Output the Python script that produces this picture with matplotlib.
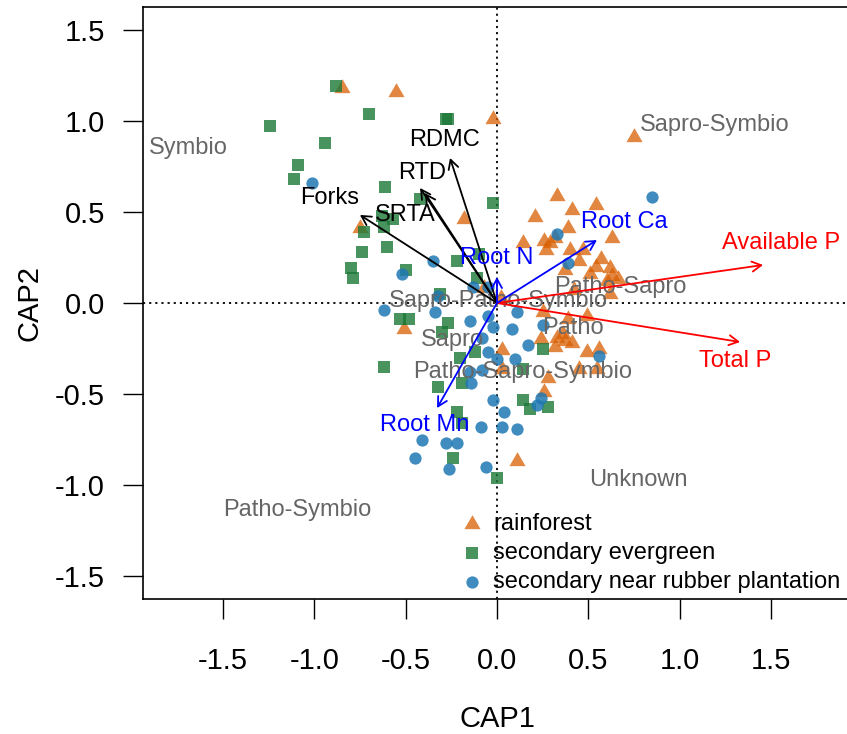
import matplotlib
matplotlib.use('Agg')
import matplotlib.pyplot as plt

plt.rcParams['font.family'] = ['Liberation Sans', 'DejaVu Sans']

# site scores (CAP1, CAP2) per forest type
rain_x = [-0.85, -0.55, -0.02, 0.75, -0.75, -0.18, -0.51, 0.11, 0.33, 0.54, 0.41, 0.21,
          0.39, 0.63, 0.14, 0.26, 0.32, 0.27, 0.40, 0.47, 0.57, 0.45, 0.54, 0.62,
          0.37, 0.51, 0.63, 0.60, 0.66, 0.62, 0.42, 0.25, 0.49, 0.39, 0.33, 0.24,
          0.37, 0.41, 0.32, 0.49, 0.56, 0.03, 0.55, 0.45, 0.28, 0.26, 0.02, -0.07,
          0.29, 0.03, 0.36]
rain_y = [1.18, 1.16, 1.01, 0.91, 0.41, 0.46, -0.14, -0.87, 0.59, 0.54, 0.51, 0.47,
          0.41, 0.36, 0.33, 0.34, 0.36, 0.29, 0.29, 0.29, 0.24, 0.23, 0.20, 0.19,
          0.18, 0.16, 0.15, 0.12, 0.13, 0.05, 0.07, -0.05, -0.07, -0.09, -0.19, -0.20,
          -0.21, -0.22, -0.24, -0.27, -0.25, -0.26, -0.36, -0.36, -0.41, -0.49, 0.03, 0.08,
          0.33, -0.36, -0.17]

ever_x = [-0.88, -0.70, -1.24, -0.94, -1.09, -1.11, -0.28, -0.27, -0.61, -0.42, -0.02,
          -0.63, -0.57, -0.62, -0.73, -0.60, -0.74, -0.80, -0.79, -0.50, -0.22, -0.10,
          -0.11, -0.31, -0.53, -0.48, -0.27, -0.30, -0.62, -0.20, -0.12, -0.32, -0.19,
          -0.22, -0.19, -0.24, 0.00, 0.14, 0.18, 0.28, 0.25, 0.14]
ever_y = [1.19, 1.04, 0.97, 0.88, 0.76, 0.68, 1.01, 1.01, 0.64, 0.57, 0.55,
          0.48, 0.46, 0.42, 0.39, 0.31, 0.28, 0.19, 0.14, 0.18, 0.23, 0.27,
          0.14, 0.05, -0.09, -0.09, -0.11, -0.16, -0.35, -0.30, -0.27, -0.46, -0.44,
          -0.60, -0.66, -0.85, -0.96, -0.53, -0.58, -0.57, -0.25, -0.36]

rubb_x = [-1.01, 0.85, 0.33, 0.39, -0.35, -0.52, -0.13, -0.05, -0.32, -0.62, -0.34,
          -0.15, -0.05, -0.02, 0.08, 0.11, -0.05, 0.00, 0.10, 0.17, 0.25, 0.56,
          -0.08, -0.14, -0.02, 0.04, -0.09, 0.03, 0.11, -0.41, -0.28, -0.22, -0.45,
          -0.26, -0.06, 0.24, 0.22, -0.15, -0.08]
rubb_y = [0.66, 0.58, 0.38, 0.22, 0.23, 0.16, 0.09, 0.09, 0.04, -0.04, -0.05,
          -0.10, -0.07, -0.13, -0.14, -0.05, -0.27, -0.31, -0.31, -0.23, -0.12, -0.29,
          -0.37, -0.44, -0.53, -0.60, -0.68, -0.68, -0.69, -0.75, -0.77, -0.77, -0.85,
          -0.91, -0.90, -0.52, -0.56, -0.38, -0.19]

# fitted environmental / trait vectors
vec_names = ['Forks', 'SRTA', 'RTD', 'RDMC', 'Available P', 'Total P', 'Root Ca', 'Root N', 'Root Mn']
vec_x = [-0.75, -0.394, -0.421, -0.257, 1.456, 1.33, 0.547, 0.0, -0.328]
vec_y = [0.484, 0.604, 0.632, 0.797, 0.209, -0.214, 0.346, 0.143, -0.577]
vec_lab_x = [-0.914, -0.504, -0.41, -0.285, 1.554, 1.303, 0.695, 0.0, -0.394]
vec_lab_y = [0.577, 0.484, 0.714, 0.896, 0.33, -0.319, 0.445, 0.247, -0.67]
vec_cols = ['black', 'black', 'black', 'black', 'red', 'red', 'blue', 'blue', 'blue']

# guild centroids
guilds = ['Symbio', 'Sapro-Symbio', 'Patho-Sapro', 'Sapro-Patho-Symbio', 'Patho', 'Sapro',
          'Patho-Sapro-Symbio', 'Unknown', 'Patho-Symbio']
guild_x = [-1.691, 1.193, 0.673, 0.01, 0.416, -0.246, 0.142, 0.772, -1.095]
guild_y = [0.852, 0.979, 0.088, 0.011, -0.137, -0.203, -0.379, -0.973, -1.136]

fig = plt.figure(figsize=(8.47, 7.34), dpi=100)
ax = fig.add_axes([0.1688, 0.1839, 0.8359, 0.8065])
ax.set_xlim(-1.937, 1.937)
ax.set_ylim(-1.626, 1.626)

ax.axhline(0, color='black', lw=1.3, ls=(0, (1.2, 2.2)), zorder=1)
ax.axvline(0, color='black', lw=1.3, ls=(0, (1.2, 2.2)), zorder=1)

ax.scatter(rain_x, rain_y, marker=(3, 0, 0), s=180, color='#D95F02', alpha=0.75,
           lw=0, label='rainforest', zorder=2)
ax.scatter(ever_x, ever_y, marker='s', s=74, color='#1B7837', alpha=0.8,
           lw=0, label='secondary evergreen', zorder=2)
ax.scatter(rubb_x, rubb_y, marker='o', s=78, color='#1F78B4', alpha=0.85,
           lw=0, label='secondary near rubber plantation', zorder=2)

for i in range(len(guilds)):
    ax.text(guild_x[i], guild_y[i], guilds[i], color='#666666', fontsize=17,
            ha='center', va='center', zorder=3)

for i in range(len(vec_names)):
    ax.annotate('', xy=(vec_x[i], vec_y[i]), xytext=(0, 0),
                arrowprops=dict(arrowstyle='->,head_length=0.55,head_width=0.3',
                                color=vec_cols[i], lw=1.3, mutation_scale=12,
                                shrinkA=0, shrinkB=0), zorder=4)
    ax.text(vec_lab_x[i], vec_lab_y[i], vec_names[i], color=vec_cols[i], fontsize=17,
            ha='center', va='center', zorder=4)

ax.set_xticks([-1.5, -1.0, -0.5, 0.0, 0.5, 1.0, 1.5])
ax.set_yticks([-1.5, -1.0, -0.5, 0.0, 0.5, 1.0, 1.5])
ax.set_xticklabels(['-1.5', '-1.0', '-0.5', '0.0', '0.5', '1.0', '1.5'])
ax.set_yticklabels(['-1.5', '-1.0', '-0.5', '0.0', '0.5', '1.0', '1.5'])
ax.tick_params(axis='both', labelsize=21, length=14.4, width=1.0, direction='out')
ax.tick_params(axis='x', pad=20)
ax.tick_params(axis='y', pad=13)
for sp in ax.spines.values():
    sp.set_linewidth(1.2)

ax.set_xlabel('CAP1', fontsize=21, va='center')
ax.set_ylabel('CAP2', fontsize=21, va='center')
ax.xaxis.set_label_coords(0.5, -0.2027)
ax.yaxis.set_label_coords(-0.1596, 0.5)

ax.legend(loc='upper left', bbox_to_anchor=(0.4477, 0.1450), frameon=False,
          fontsize=17, handlelength=1.0, handletextpad=0.4, labelspacing=0.29,
          borderpad=0, borderaxespad=0)

fig.savefig('out.png', dpi=100)
